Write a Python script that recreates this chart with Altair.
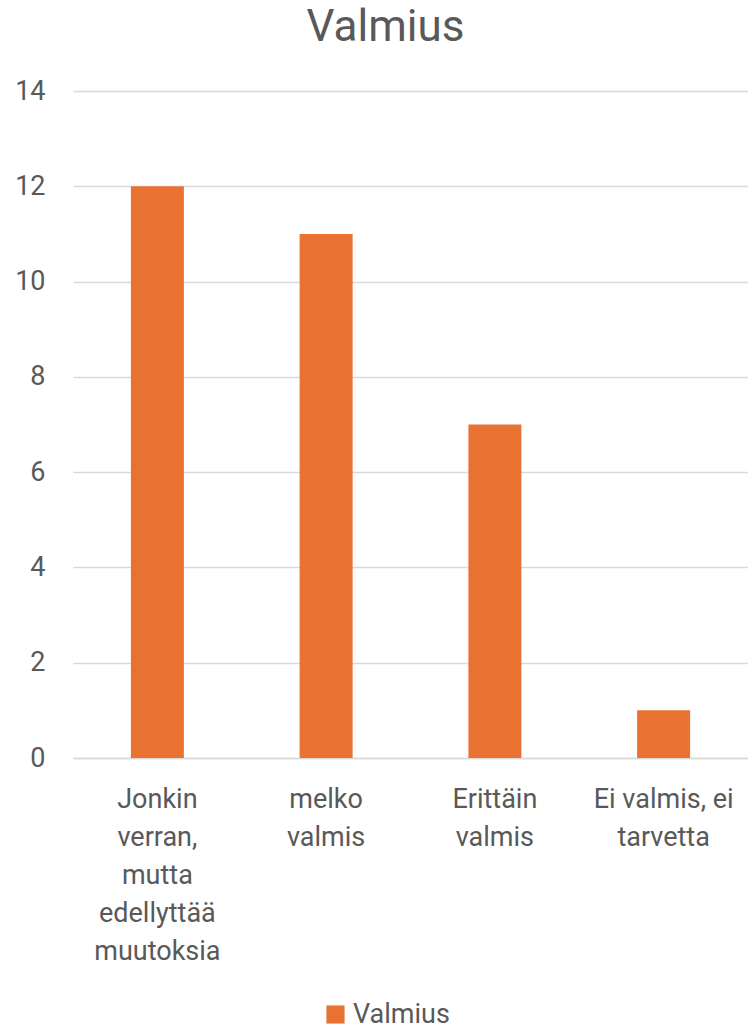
import altair as alt
import pandas as pd

categories = ["Jonkin|verran,|mutta|edellyttää|muutoksia", "melko|valmis", "Erittäin|valmis", "Ei valmis, ei|tarvetta"]
values = [12, 11, 7, 1]
series = ["Valmius"] * 4

df = pd.DataFrame({"cat": categories, "val": values, "series": series})

FONT = "Liberation Sans Narrow, Roboto, sans-serif"
TXT = "#595959"

chart = alt.Chart(df).mark_bar(color="#E97132").encode(
    x=alt.X("cat:N", sort=categories, title=None,
            scale=alt.Scale(paddingInner=0.686, paddingOuter=0.343),
            axis=alt.Axis(labelAngle=0, labelExpr="split(datum.label, '|')",
                          labelFont=FONT, labelFontSize=27, labelColor=TXT,
                          labelLineHeight=38, labelPadding=28, labelBaseline="top",
                          ticks=False, domain=True, domainColor="#D9D9D9", domainWidth=1.5,
                          grid=False, labelLimit=300)),
    y=alt.Y("val:Q", title=None,
            scale=alt.Scale(domain=[0, 14], nice=False),
            axis=alt.Axis(values=[0, 2, 4, 6, 8, 10, 12, 14], labelFont=FONT, labelFontSize=27,
                          labelColor=TXT, ticks=False, domain=False, gridColor="#D9D9D9",
                          gridWidth=1.5, labelPadding=28)),
    fill=alt.Fill("series:N", scale=alt.Scale(range=["#E97132"]),
                  legend=alt.Legend(title=None, orient="none", legendX=249, legendY=910,
                                    symbolType="square", symbolSize=330, symbolStrokeWidth=0,
                                    labelFont=FONT, labelFontSize=27, labelColor=TXT,
                                    labelOffset=4, padding=0))
).properties(
    width=675, height=667,
    title=alt.TitleParams("Valmius", font=FONT, fontSize=44, fontWeight="normal",
                          color=TXT, anchor="middle", dx=-25, offset=27),
    autosize=alt.AutoSizeParams(type="none"),
    padding={"left": 73, "top": 91, "right": 0, "bottom": 270},
).configure_view(stroke=None)

chart.save("out.html", embed_options={"renderer": "svg", "actions": False})
